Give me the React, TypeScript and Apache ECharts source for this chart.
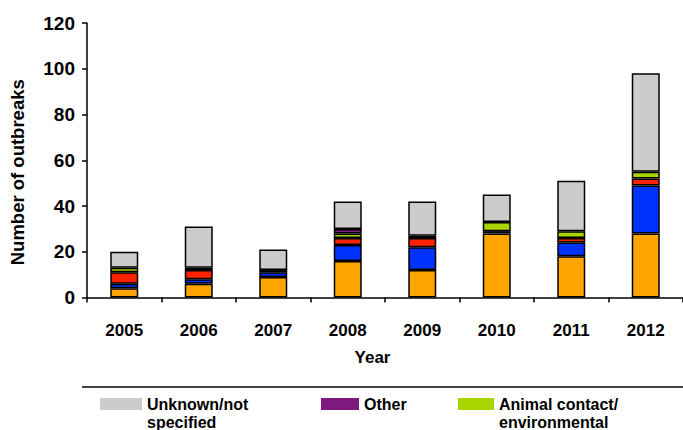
import React, { useEffect, useRef } from "react";
import * as echarts from "echarts";

const years = ["2005", "2006", "2007", "2008", "2009", "2010", "2011", "2012"];
const orangeVals = [4, 6, 9, 16, 12, 28, 18, 28];
const blueVals = [2, 2, 2, 7, 10, 1, 6, 21];
const redVals = [5, 4, 0, 3, 4, 0, 2, 3];
const greenVals = [2, 1, 1, 2, 0, 4, 3, 3];
const purpleVals = [0, 0, 0, 2, 1, 0, 0, 0];
const grayVals = [7, 18, 9, 12, 15, 12, 22, 43];
const yTicks = { min: 0, max: 120, interval: 20 };

const FONT = "'Liberation Sans', Arial, sans-serif";

export default function App() {
  const ref = useRef<HTMLDivElement>(null);
  useEffect(() => {
    if (!ref.current) return;
    const chart = echarts.init(ref.current, null, { renderer: "svg" });
    const mk = (name: string, vals: number[], color: string) => ({
      name,
      type: "bar",
      stack: "total",
      barWidth: 28,
      data: vals.map((v) => (v === 0 ? null : v)),
      itemStyle: { color, borderColor: "#000", borderWidth: 1.5 },
    });
    const legendBase = {
      orient: "horizontal",
      padding: 0,
      itemHeight: 12,
      icon: "rect",
      selectedMode: false,
      itemStyle: { borderWidth: 0 },
    };
    const legendText = {
      fontFamily: FONT,
      fontWeight: "bold",
      fontSize: 16,
      color: "#000",
      lineHeight: 18,
    };
    chart.setOption({
      animation: false,
      textStyle: { fontFamily: FONT },
      grid: { left: 86, right: 0, top: 23, bottom: 132.5, containLabel: false },
      legend: [
        {
          ...legendBase,
          itemWidth: 42,
          left: 100,
          top: 377,
          data: ["Unknown/not specified"],
          formatter: () => " \nUnknown/not\nspecified",
          textStyle: legendText,
        },
        {
          ...legendBase,
          itemWidth: 38,
          left: 321,
          top: 395,
          data: ["Other"],
          textStyle: legendText,
        },
        {
          ...legendBase,
          itemWidth: 36,
          left: 458,
          top: 377,
          data: ["Animal contact/ environmental"],
          formatter: () => " \nAnimal contact/\nenvironmental",
          textStyle: legendText,
        },
      ],
      xAxis: {
        type: "category",
        data: years,
        boundaryGap: true,
        name: "Year",
        nameLocation: "middle",
        nameGap: 51,
        nameTextStyle: {
          fontFamily: FONT,
          fontWeight: "bold",
          fontSize: 17,
          color: "#000",
          padding: [0, 25, 0, 0],
        },
        axisLine: { lineStyle: { color: "#000", width: 1.5 } },
        axisTick: { show: true, alignWithLabel: false, length: 5, lineStyle: { color: "#000", width: 1.5 } },
        axisLabel: { fontFamily: FONT, fontWeight: "bold", fontSize: 17, color: "#000", margin: 24 },
        splitLine: { show: false },
      },
      yAxis: {
        type: "value",
        min: yTicks.min,
        max: yTicks.max,
        interval: yTicks.interval,
        name: "Number of outbreaks",
        nameLocation: "middle",
        nameGap: 60,
        nameTextStyle: {
          fontFamily: FONT,
          fontWeight: "bold",
          fontSize: 18.5,
          color: "#000",
          padding: [0, 24, 0, 0],
        },
        axisLine: { show: true, lineStyle: { color: "#000", width: 1.5 } },
        axisTick: { show: true, length: 5, lineStyle: { color: "#000", width: 1.5 } },
        axisLabel: { fontFamily: FONT, fontWeight: "bold", fontSize: 19, color: "#000", margin: 12 },
        splitLine: { show: false },
      },
      graphic: [
        {
          type: "line",
          shape: { x1: 82, y1: 387, x2: 683, y2: 387 },
          style: { stroke: "#000", lineWidth: 1.5 },
        },
      ],
      series: [
        mk("Foodborne", orangeVals, "#FFA500"),
        mk("Person-to-person", blueVals, "#0033FF"),
        mk("Waterborne", redVals, "#FF2200"),
        mk("Animal contact/ environmental", greenVals, "#A8D400"),
        mk("Other", purpleVals, "#7F1A7F"),
        mk("Unknown/not specified", grayVals, "#CCCCCC"),
      ],
    });
    return () => chart.dispose();
  }, []);
  return <div ref={ref} style={{ width: 683, height: 430, position: "absolute", left: 0, top: 0 }} />;
}
